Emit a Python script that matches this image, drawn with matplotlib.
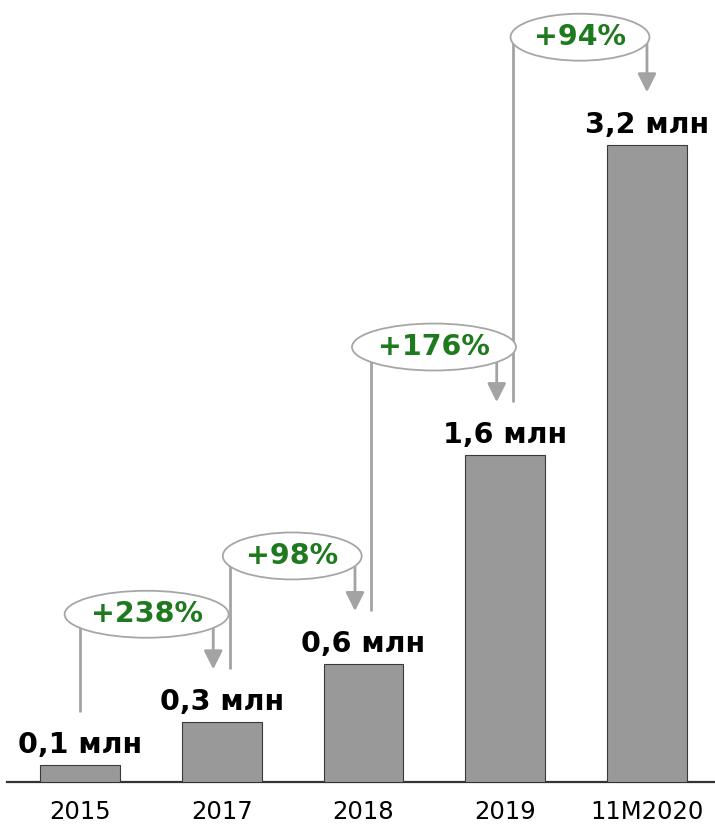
import matplotlib
matplotlib.use("Agg")
import matplotlib.pyplot as plt
from matplotlib.patches import Ellipse

# data (millions)
years = ["2015", "2017", "2018", "2019", "11M2020"]
values = [0.085, 0.30, 0.593, 1.643, 3.20]
value_labels = ["0,1 млн", "0,3 млн", "0,6 млн", "1,6 млн", "3,2 млн"]
growth_labels = ["+238%", "+98%", "+176%", "+94%"]

bar_color = "#999999"
line_color = "#a3a3a3"
green = "#1f7a1f"

fig = plt.figure(figsize=(7.15, 8.24), dpi=100)
ax = fig.add_axes([7 / 715, 42 / 824, 1 - 7 / 715, 782 / 824])
ax.set_xlim(-0.515, 4.48)
ax.set_ylim(0, 3.93)

x = list(range(len(years)))
ax.bar(x, values, width=0.564, color=bar_color, edgecolor="#3a3a3a", linewidth=0.8, zorder=3)

# value labels above bars
for i, v in enumerate(values):
    ax.annotate(value_labels[i], (i, v), xytext=(0, 9), textcoords="offset points",
                ha="center", va="baseline", fontsize=20.5, fontweight="bold", color="black")

# growth bubbles with connectors
gap = 0.266     # space between bar top and connector end
lift = 0.543    # ellipse centre above the target bar top
for i, g in enumerate(growth_labels):
    x_up = i + (0.0 if i == 0 else 0.055)
    x_dn = i + 1 - (0.0 if i == len(growth_labels) - 1 else 0.06)
    yc = values[i + 1] + lift
    xc = (x_up + x_dn) / 2
    w = 1.157 if len(g) > 4 else 0.98
    ax.plot([x_up, x_up], [values[i] + gap, yc], color=line_color, lw=2, zorder=1,
            solid_capstyle="butt")
    ax.annotate("", xy=(x_dn, values[i + 1] + gap), xytext=(x_dn, yc),
                arrowprops=dict(arrowstyle="-|>,head_width=0.4,head_length=0.8",
                                color=line_color, lw=2, mutation_scale=14,
                                shrinkA=0, shrinkB=0), zorder=1)
    ax.add_patch(Ellipse((xc, yc), w, 0.236, facecolor="white", edgecolor="#a6a6a6",
                         lw=1.3, zorder=2))
    ax.text(xc, yc, g, ha="center", va="center", fontsize=20.5, fontweight="bold",
            color=green, zorder=4)

ax.set_xticks(x)
ax.set_xticklabels(years, fontsize=17.5)
ax.tick_params(axis="x", length=0, pad=13)
ax.set_yticks([])
for s in ["top", "left", "right"]:
    ax.spines[s].set_visible(False)
ax.spines["bottom"].set_linewidth(1.6)
ax.spines["bottom"].set_color("#333333")

fig.savefig("out.png", dpi=100)
